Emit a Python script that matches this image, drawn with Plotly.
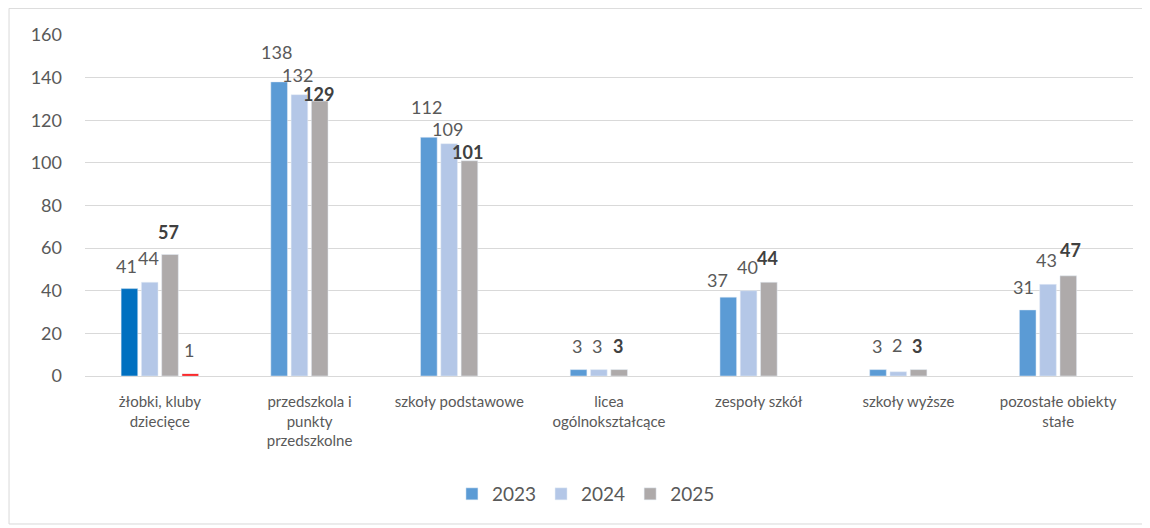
import plotly.graph_objects as go

categories = ["żłobki, kluby<br>dziecięce", "przedszkola i<br>punkty<br>przedszkolne",
              "szkoły podstawowe", "licea<br>ogólnokształcące", "zespoły szkół",
              "szkoły wyższe", "pozostałe obiekty<br>stałe"]
v2023 = [41, 138, 112, 3, 37, 3, 31]
v2024 = [44, 132, 109, 3, 40, 2, 43]
v2025 = [57, 129, 101, 3, 44, 3, 47]
extra_cat = [categories[0]]
extra_val = [1]
y_ticks = [0, 20, 40, 60, 80, 100, 120, 140, 160]

FONT = "Lato"
TXT = "#595959"

# layout geometry (pixels)
W, H = 1142, 520
ML, MR, MT, MB = 77, 17, 27, 152
BARGAP, GROUPGAP = 0.458, 0.18
NSLOT = 4
plot_w = W - ML - MR
slot_w = plot_w / len(categories) * (1 - BARGAP) / NSLOT

# label placement (Excel-like, manually nudged labels); pixel offsets
LABEL_DY = 24
label_nudge = {  # (slot, category index): (dx, dy)
    (0, 1): (-1, 30), (1, 1): (0, 20), (2, 1): (0, 7),
    (0, 2): (-1, 30), (1, 2): (0, 15), (2, 2): (0, 9),
    (0, 4): (-9, 17),
    (0, 0): (-1, 23), (1, 0): (0, 24), (2, 0): (0, 23),
    (0, 6): (-3, 23), (2, 6): (4, 26), (1, 5): (0, 27),
}

# the 2023 bar of the first category is highlighted; put it last in the data
# so the legend swatch takes the regular series colour
x2023 = categories[1:] + categories[:1]
y2023 = v2023[1:] + v2023[:1]
c2023 = ["#5B9BD5"] * (len(categories) - 1) + ["#0070C0"]

fig = go.Figure()
fig.add_trace(go.Bar(name="2023", x=x2023, y=y2023, marker=dict(color=c2023)))
fig.add_trace(go.Bar(name="2024", x=categories, y=v2024, marker=dict(color="#B4C7E7")))
fig.add_trace(go.Bar(name="2025", x=categories, y=v2025, marker=dict(color="#AEAAAA")))
fig.add_trace(go.Bar(name="", x=extra_cat, y=extra_val, marker=dict(color="#FF0000"),
                     showlegend=False))

annotations = []
series_for_labels = [(categories, v2023, False), (categories, v2024, False),
                     (categories, v2025, True), (extra_cat, extra_val, False)]
for slot, (xs, ys, bold) in enumerate(series_for_labels):
    for ci, (xc, yv) in enumerate(zip(xs, ys)):
        dx, dy = label_nudge.get((slot, ci), (0, LABEL_DY))
        annotations.append(dict(
            x=xc, y=yv, xref="x", yref="y", showarrow=False,
            text=f"<b>{yv}</b>" if bold else str(yv),
            xanchor="center", yanchor="middle",
            xshift=(slot - (NSLOT - 1) / 2) * slot_w + dx - 1.5, yshift=dy,
            font=dict(size=18, family=FONT, color="#404040" if bold else TXT)))

fig.update_layout(
    width=W, height=H,
    margin=dict(l=ML, r=MR, t=MT, b=MB),
    barmode="group", bargap=BARGAP, bargroupgap=GROUPGAP,
    paper_bgcolor="white", plot_bgcolor="white",
    font=dict(family=FONT, color=TXT),
    annotations=annotations,
    legend=dict(orientation="h", x=0.478, xanchor="center", y=-0.346, yanchor="middle",
                font=dict(size=19, color=TXT, family=FONT), itemwidth=30,
                traceorder="normal"),
    xaxis=dict(showgrid=False, showline=True, linecolor="#D9D9D9", linewidth=1,
               categoryorder="array", categoryarray=categories,
               tickfont=dict(size=15, color=TXT, family=FONT), ticks="",
               ticklabelstandoff=12),
    yaxis=dict(range=[0, 160], tickvals=y_ticks, showgrid=True, gridcolor="#D9D9D9",
               gridwidth=1, zeroline=False, showline=False, ticks="",
               tickfont=dict(size=18, color=TXT, family=FONT), ticklabelstandoff=22),
    shapes=[dict(type="rect", xref="paper", yref="paper",
                 x0=-0.0725, x1=1.0134, y0=-0.434, y1=1.078,
                 line=dict(color="#D9D9D9", width=1), fillcolor="rgba(0,0,0,0)",
                 layer="below")],
)

fig.write_html("out.html")
